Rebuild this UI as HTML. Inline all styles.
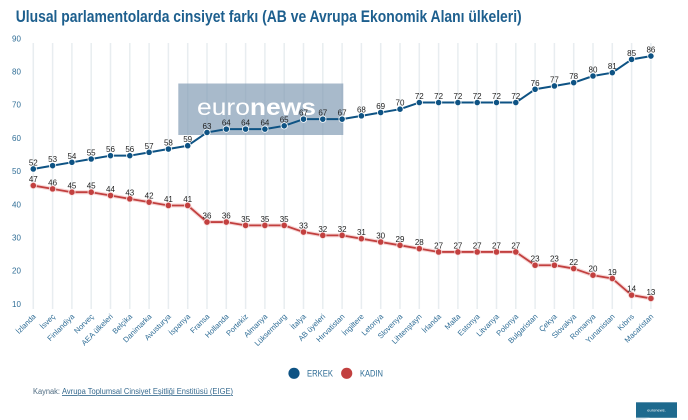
<!DOCTYPE html>
<html><head><meta charset="utf-8"><style>
html,body{margin:0;padding:0;background:#fff;}
svg{display:block;font-family:"Liberation Sans",Arial,sans-serif;}
</style></head><body>
<svg width="688" height="420" viewBox="0 0 688 420" xmlns="http://www.w3.org/2000/svg">
<rect width="688" height="420" fill="#fff"/>
<text x="15.7" y="22" font-size="16.5" font-weight="bold" fill="#1d5f8e" textLength="506" lengthAdjust="spacingAndGlyphs">Ulusal parlamentolarda cinsiyet farkı (AB ve Avrupa Ekonomik Alanı ülkeleri)</text>

<g fill="#2f6d96" font-size="8" text-anchor="middle">
<text x="16.5" y="41.3">90</text><text x="16.5" y="74.5">80</text><text x="16.5" y="107.7">70</text><text x="16.5" y="140.9">60</text><text x="16.5" y="174.1">50</text><text x="16.5" y="207.3">40</text><text x="16.5" y="240.5">30</text><text x="16.5" y="273.7">20</text><text x="16.5" y="306.9">10</text>
</g>

<g stroke="#e8edf0" stroke-width="1.5">
<line x1="33.3" y1="43" x2="33.3" y2="309"/><line x1="52.6" y1="43" x2="52.6" y2="309"/><line x1="71.9" y1="43" x2="71.9" y2="309"/><line x1="91.2" y1="43" x2="91.2" y2="309"/><line x1="110.5" y1="43" x2="110.5" y2="309"/><line x1="129.8" y1="43" x2="129.8" y2="309"/><line x1="149.1" y1="43" x2="149.1" y2="309"/><line x1="168.4" y1="43" x2="168.4" y2="309"/><line x1="187.7" y1="43" x2="187.7" y2="309"/><line x1="207" y1="43" x2="207" y2="309"/><line x1="226.3" y1="43" x2="226.3" y2="309"/><line x1="245.6" y1="43" x2="245.6" y2="309"/><line x1="264.9" y1="43" x2="264.9" y2="309"/><line x1="284.2" y1="43" x2="284.2" y2="309"/><line x1="303.5" y1="43" x2="303.5" y2="309"/><line x1="322.8" y1="43" x2="322.8" y2="309"/><line x1="342.1" y1="43" x2="342.1" y2="309"/><line x1="361.4" y1="43" x2="361.4" y2="309"/><line x1="380.7" y1="43" x2="380.7" y2="309"/><line x1="400" y1="43" x2="400" y2="309"/><line x1="419.3" y1="43" x2="419.3" y2="309"/><line x1="438.6" y1="43" x2="438.6" y2="309"/><line x1="457.9" y1="43" x2="457.9" y2="309"/><line x1="477.2" y1="43" x2="477.2" y2="309"/><line x1="496.5" y1="43" x2="496.5" y2="309"/><line x1="515.8" y1="43" x2="515.8" y2="309"/><line x1="535.1" y1="43" x2="535.1" y2="309"/><line x1="554.4" y1="43" x2="554.4" y2="309"/><line x1="573.7" y1="43" x2="573.7" y2="309"/><line x1="593" y1="43" x2="593" y2="309"/><line x1="612.3" y1="43" x2="612.3" y2="309"/><line x1="631.6" y1="43" x2="631.6" y2="309"/><line x1="650.9" y1="43" x2="650.9" y2="309"/>
</g>

<!-- watermark -->
<rect x="178.3" y="83.5" width="165" height="51.5" fill="#7f9ab3" opacity="0.68"/>
<text x="197" y="115" font-size="23" fill="#fff" textLength="119" lengthAdjust="spacingAndGlyphs"><tspan font-weight="normal">euro</tspan><tspan font-weight="bold">news</tspan></text>

<!-- ERKEK -->
<polyline fill="none" stroke="#0e5384" stroke-width="2" stroke-linejoin="round" points="33.3,168.96 52.6,165.64 71.9,162.32 91.2,159 110.5,155.68 129.8,155.68 149.1,152.36 168.4,149.04 187.7,145.72 207,132.44 226.3,129.12 245.6,129.12 264.9,129.12 284.2,125.8 303.5,119.16 322.8,119.16 342.1,119.16 361.4,115.84 380.7,112.52 400,109.2 419.3,102.56 438.6,102.56 457.9,102.56 477.2,102.56 496.5,102.56 515.8,102.56 535.1,89.28 554.4,85.96 573.7,82.64 593,76 612.3,72.68 631.6,59.4 650.9,56.08"/>
<g fill="#0e5384" stroke="#fff" stroke-width="0.8">
<circle cx="33.3" cy="168.96" r="3.2"/><circle cx="52.6" cy="165.64" r="3.2"/><circle cx="71.9" cy="162.32" r="3.2"/><circle cx="91.2" cy="159" r="3.2"/><circle cx="110.5" cy="155.68" r="3.2"/><circle cx="129.8" cy="155.68" r="3.2"/><circle cx="149.1" cy="152.36" r="3.2"/><circle cx="168.4" cy="149.04" r="3.2"/><circle cx="187.7" cy="145.72" r="3.2"/><circle cx="207" cy="132.44" r="3.2"/><circle cx="226.3" cy="129.12" r="3.2"/><circle cx="245.6" cy="129.12" r="3.2"/><circle cx="264.9" cy="129.12" r="3.2"/><circle cx="284.2" cy="125.8" r="3.2"/><circle cx="303.5" cy="119.16" r="3.2"/><circle cx="322.8" cy="119.16" r="3.2"/><circle cx="342.1" cy="119.16" r="3.2"/><circle cx="361.4" cy="115.84" r="3.2"/><circle cx="380.7" cy="112.52" r="3.2"/><circle cx="400" cy="109.2" r="3.2"/><circle cx="419.3" cy="102.56" r="3.2"/><circle cx="438.6" cy="102.56" r="3.2"/><circle cx="457.9" cy="102.56" r="3.2"/><circle cx="477.2" cy="102.56" r="3.2"/><circle cx="496.5" cy="102.56" r="3.2"/><circle cx="515.8" cy="102.56" r="3.2"/><circle cx="535.1" cy="89.28" r="3.2"/><circle cx="554.4" cy="85.96" r="3.2"/><circle cx="573.7" cy="82.64" r="3.2"/><circle cx="593" cy="76" r="3.2"/><circle cx="612.3" cy="72.68" r="3.2"/><circle cx="631.6" cy="59.4" r="3.2"/><circle cx="650.9" cy="56.08" r="3.2"/>
</g>
<g fill="#222" font-size="8" text-anchor="middle">
<text x="33.3" y="165.5">52</text><text x="52.6" y="162.1">53</text><text x="71.9" y="158.8">54</text><text x="91.2" y="155.5">55</text><text x="110.5" y="152.2">56</text><text x="129.8" y="152.2">56</text><text x="149.1" y="148.9">57</text><text x="168.4" y="145.5">58</text><text x="187.7" y="142.2">59</text><text x="207" y="128.9">63</text><text x="226.3" y="125.6">64</text><text x="245.6" y="125.6">64</text><text x="264.9" y="125.6">64</text><text x="284.2" y="122.3">65</text><text x="303.5" y="115.7">67</text><text x="322.8" y="115.7">67</text><text x="342.1" y="115.7">67</text><text x="361.4" y="112.3">68</text><text x="380.7" y="109">69</text><text x="400" y="105.7">70</text><text x="419.3" y="99.1">72</text><text x="438.6" y="99.1">72</text><text x="457.9" y="99.1">72</text><text x="477.2" y="99.1">72</text><text x="496.5" y="99.1">72</text><text x="515.8" y="99.1">72</text><text x="535.1" y="85.8">76</text><text x="554.4" y="82.5">77</text><text x="573.7" y="79.1">78</text><text x="593" y="72.5">80</text><text x="612.3" y="69.2">81</text><text x="631.6" y="55.9">85</text><text x="650.9" y="52.6">86</text>
</g>

<!-- KADIN -->
<polyline fill="none" stroke="#f6d6d6" stroke-width="4" stroke-linejoin="round" points="33.3,185.56 52.6,188.88 71.9,192.2 91.2,192.2 110.5,195.52 129.8,198.84 149.1,202.16 168.4,205.48 187.7,205.48 207,222.08 226.3,222.08 245.6,225.4 264.9,225.4 284.2,225.4 303.5,232.04 322.8,235.36 342.1,235.36 361.4,238.68 380.7,242 400,245.32 419.3,248.64 438.6,251.96 457.9,251.96 477.2,251.96 496.5,251.96 515.8,251.96 535.1,265.24 554.4,265.24 573.7,268.56 593,275.2 612.3,278.52 631.6,295.12 650.9,298.44"/>
<polyline fill="none" stroke="#c2403f" stroke-width="1.8" stroke-linejoin="round" points="33.3,185.56 52.6,188.88 71.9,192.2 91.2,192.2 110.5,195.52 129.8,198.84 149.1,202.16 168.4,205.48 187.7,205.48 207,222.08 226.3,222.08 245.6,225.4 264.9,225.4 284.2,225.4 303.5,232.04 322.8,235.36 342.1,235.36 361.4,238.68 380.7,242 400,245.32 419.3,248.64 438.6,251.96 457.9,251.96 477.2,251.96 496.5,251.96 515.8,251.96 535.1,265.24 554.4,265.24 573.7,268.56 593,275.2 612.3,278.52 631.6,295.12 650.9,298.44"/>
<g fill="#c2403f" stroke="#f8e0e0" stroke-width="0.8">
<circle cx="33.3" cy="185.56" r="3.2"/><circle cx="52.6" cy="188.88" r="3.2"/><circle cx="71.9" cy="192.2" r="3.2"/><circle cx="91.2" cy="192.2" r="3.2"/><circle cx="110.5" cy="195.52" r="3.2"/><circle cx="129.8" cy="198.84" r="3.2"/><circle cx="149.1" cy="202.16" r="3.2"/><circle cx="168.4" cy="205.48" r="3.2"/><circle cx="187.7" cy="205.48" r="3.2"/><circle cx="207" cy="222.08" r="3.2"/><circle cx="226.3" cy="222.08" r="3.2"/><circle cx="245.6" cy="225.4" r="3.2"/><circle cx="264.9" cy="225.4" r="3.2"/><circle cx="284.2" cy="225.4" r="3.2"/><circle cx="303.5" cy="232.04" r="3.2"/><circle cx="322.8" cy="235.36" r="3.2"/><circle cx="342.1" cy="235.36" r="3.2"/><circle cx="361.4" cy="238.68" r="3.2"/><circle cx="380.7" cy="242" r="3.2"/><circle cx="400" cy="245.32" r="3.2"/><circle cx="419.3" cy="248.64" r="3.2"/><circle cx="438.6" cy="251.96" r="3.2"/><circle cx="457.9" cy="251.96" r="3.2"/><circle cx="477.2" cy="251.96" r="3.2"/><circle cx="496.5" cy="251.96" r="3.2"/><circle cx="515.8" cy="251.96" r="3.2"/><circle cx="535.1" cy="265.24" r="3.2"/><circle cx="554.4" cy="265.24" r="3.2"/><circle cx="573.7" cy="268.56" r="3.2"/><circle cx="593" cy="275.2" r="3.2"/><circle cx="612.3" cy="278.52" r="3.2"/><circle cx="631.6" cy="295.12" r="3.2"/><circle cx="650.9" cy="298.44" r="3.2"/>
</g>
<g fill="#222" font-size="8" text-anchor="middle">
<text x="33.3" y="182.1">47</text><text x="52.6" y="185.4">46</text><text x="71.9" y="188.7">45</text><text x="91.2" y="188.7">45</text><text x="110.5" y="192">44</text><text x="129.8" y="195.3">43</text><text x="149.1" y="198.7">42</text><text x="168.4" y="202">41</text><text x="187.7" y="202">41</text><text x="207" y="218.6">36</text><text x="226.3" y="218.6">36</text><text x="245.6" y="221.9">35</text><text x="264.9" y="221.9">35</text><text x="284.2" y="221.9">35</text><text x="303.5" y="228.5">33</text><text x="322.8" y="231.9">32</text><text x="342.1" y="231.9">32</text><text x="361.4" y="235.2">31</text><text x="380.7" y="238.5">30</text><text x="400" y="241.8">29</text><text x="419.3" y="245.1">28</text><text x="438.6" y="248.5">27</text><text x="457.9" y="248.5">27</text><text x="477.2" y="248.5">27</text><text x="496.5" y="248.5">27</text><text x="515.8" y="248.5">27</text><text x="535.1" y="261.7">23</text><text x="554.4" y="261.7">23</text><text x="573.7" y="265.1">22</text><text x="593" y="271.7">20</text><text x="612.3" y="275">19</text><text x="631.6" y="291.6">14</text><text x="650.9" y="294.9">13</text>
</g>

<!-- x labels -->
<g fill="#2f6d96" font-size="7.6" text-anchor="end">
<text transform="translate(36.3,317) rotate(-45)">İzlanda</text>
<text transform="translate(55.6,317) rotate(-45)">İsveç</text>
<text transform="translate(74.9,317) rotate(-45)">Finlandiya</text>
<text transform="translate(94.2,317) rotate(-45)">Norveç</text>
<text transform="translate(113.5,317) rotate(-45)">AEA ülkeleri</text>
<text transform="translate(132.8,317) rotate(-45)">Belçika</text>
<text transform="translate(152.1,317) rotate(-45)">Danimarka</text>
<text transform="translate(171.4,317) rotate(-45)">Avusturya</text>
<text transform="translate(190.7,317) rotate(-45)">İspanya</text>
<text transform="translate(210,317) rotate(-45)">Fransa</text>
<text transform="translate(229.3,317) rotate(-45)">Hollanda</text>
<text transform="translate(248.6,317) rotate(-45)">Portekiz</text>
<text transform="translate(267.9,317) rotate(-45)">Almanya</text>
<text transform="translate(287.2,317) rotate(-45)">Lüksemburg</text>
<text transform="translate(306.5,317) rotate(-45)">İtalya</text>
<text transform="translate(325.8,317) rotate(-45)">AB üyeleri</text>
<text transform="translate(345.1,317) rotate(-45)">Hırvatistan</text>
<text transform="translate(364.4,317) rotate(-45)">İngiltere</text>
<text transform="translate(383.7,317) rotate(-45)">Letonya</text>
<text transform="translate(403,317) rotate(-45)">Slovenya</text>
<text transform="translate(422.3,317) rotate(-45)">Lihtenştayn</text>
<text transform="translate(441.6,317) rotate(-45)">İrlanda</text>
<text transform="translate(460.9,317) rotate(-45)">Malta</text>
<text transform="translate(480.2,317) rotate(-45)">Estonya</text>
<text transform="translate(499.5,317) rotate(-45)">Litvanya</text>
<text transform="translate(518.8,317) rotate(-45)">Polonya</text>
<text transform="translate(538.1,317) rotate(-45)">Bulgaristan</text>
<text transform="translate(557.4,317) rotate(-45)">Çekya</text>
<text transform="translate(576.7,317) rotate(-45)">Slovakya</text>
<text transform="translate(596,317) rotate(-45)">Romanya</text>
<text transform="translate(615.3,317) rotate(-45)">Yunanistan</text>
<text transform="translate(634.6,317) rotate(-45)">Kıbrıs</text>
<text transform="translate(653.9,317) rotate(-45)">Macaristan</text>
</g>

<!-- legend -->
<circle cx="294" cy="373.3" r="5.6" fill="#0e5384"/>
<text x="307" y="376.5" font-size="9" fill="#2f6d96" textLength="26" lengthAdjust="spacingAndGlyphs">ERKEK</text>
<circle cx="346.7" cy="373.3" r="5.6" fill="#c2403f"/>
<text x="360" y="376.5" font-size="9" fill="#2f6d96" textLength="23" lengthAdjust="spacingAndGlyphs">KADIN</text>

<!-- source -->
<text x="33" y="394" font-size="7.8" fill="#4f6c82"><tspan textLength="27" lengthAdjust="spacingAndGlyphs">Kaynak:</tspan></text>
<text x="62" y="394" font-size="7.8" fill="#35698e" text-decoration="underline" textLength="171" lengthAdjust="spacingAndGlyphs">Avrupa Toplumsal Cinsiyet Eşitliği Enstitüsü (EIGE)</text>
<line x1="62" y1="395.3" x2="233" y2="395.3" stroke="#35698e" stroke-width="0.6"/>

<!-- logo -->
<rect x="636" y="402.3" width="41" height="15.5" fill="#1e6a8e"/>
<polygon points="636,417.8 650,417.8 640,420 636,420" fill="#dfe8ee"/>
<text x="656.5" y="411.5" font-size="4" fill="#fff" text-anchor="middle">euronews.</text>
</svg>
</body></html>
